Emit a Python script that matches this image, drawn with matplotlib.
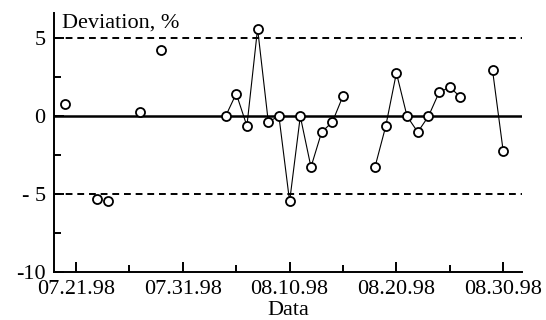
import datetime as dt
import numpy as np
import matplotlib
matplotlib.use("Agg")
import matplotlib.pyplot as plt
import matplotlib.dates as mdates

plt.rcParams['font.family'] = ['Liberation Serif', 'DejaVu Serif']

# measurement days and deviation values (%), grouped by connected runs
seg_dates = [
    ["1998-07-20"],
    ["1998-07-23"],
    ["1998-07-24"],
    ["1998-07-27"],
    ["1998-07-29"],
    ["1998-08-04", "1998-08-05", "1998-08-06", "1998-08-07", "1998-08-08", "1998-08-09",
     "1998-08-10", "1998-08-11", "1998-08-12", "1998-08-13", "1998-08-14", "1998-08-15"],
    ["1998-08-18", "1998-08-19", "1998-08-20", "1998-08-21", "1998-08-22", "1998-08-23",
     "1998-08-24", "1998-08-25", "1998-08-26"],
    ["1998-08-29", "1998-08-30"],
]
seg_values = [
    [0.82],
    [-5.34],
    [-5.47],
    [0.28],
    [4.27],
    [0.0, 1.46, -0.62, 5.64, -0.34, 0.0, -5.47, 0.0, -3.26, -1.01, -0.37, 1.31],
    [-3.24, -0.64, 2.79, 0.0, -1.01, 0.0, 1.54, 1.87, 1.24],
    [2.98, -2.23],
]

major_dates = ["1998-07-21", "1998-07-31", "1998-08-10", "1998-08-20", "1998-08-30"]
minor_dates = ["1998-07-26", "1998-08-05", "1998-08-15", "1998-08-25"]
y_major = [-10, -5, 0, 5]
y_labels = ["-10", "- 5", "0", "5"]
y_minor = [-7.5, -2.5, 2.5]
limits = [-5, 5]


def to_dt(s):
    return dt.datetime.strptime(s, "%Y-%m-%d")


fig = plt.figure(figsize=(5.46, 3.2), dpi=100)
ax = fig.add_axes([0.099, 0.15, 0.857, 0.809])

for ds, vs in zip(seg_dates, seg_values):
    ax.plot([to_dt(d) for d in ds], vs, color='black', lw=0.8, marker='o',
            ms=6.5, mfc='white', mec='black', mew=1.3, zorder=3)

ax.axhline(0, color='black', lw=1.8, zorder=1)
for lim in limits:
    ax.axhline(lim, color='black', lw=1.4, ls=(0, (3.5, 2.5)), zorder=1)

ax.set_xlim(to_dt("1998-07-21") - dt.timedelta(days=2.06),
            to_dt("1998-07-21") + dt.timedelta(days=41.76))
ax.set_ylim(-10, 6.63)

ax.set_xticks([to_dt(d) for d in major_dates])
ax.set_xticks([to_dt(d) for d in minor_dates], minor=True)
ax.xaxis.set_major_formatter(mdates.DateFormatter('%m.%d.%y'))
ax.set_yticks(y_major)
ax.set_yticklabels(y_labels)
ax.set_yticks(y_minor, minor=True)

ax.tick_params(which='both', direction='in', width=1.4, labelsize=16)
ax.tick_params(axis='x', pad=6)
ax.tick_params(axis='y', pad=6)
ax.tick_params(which='major', length=7)
ax.tick_params(which='minor', length=5)

for side in ['top', 'right']:
    ax.spines[side].set_visible(False)
for side in ['left', 'bottom']:
    ax.spines[side].set_linewidth(1.4)

ax.set_xlabel('Data', fontsize=16, labelpad=1)
ax.text(0.018, 1.0, 'Deviation, %', transform=ax.transAxes, fontsize=16,
        va='top', ha='left')

fig.savefig('out.png', dpi=100)
